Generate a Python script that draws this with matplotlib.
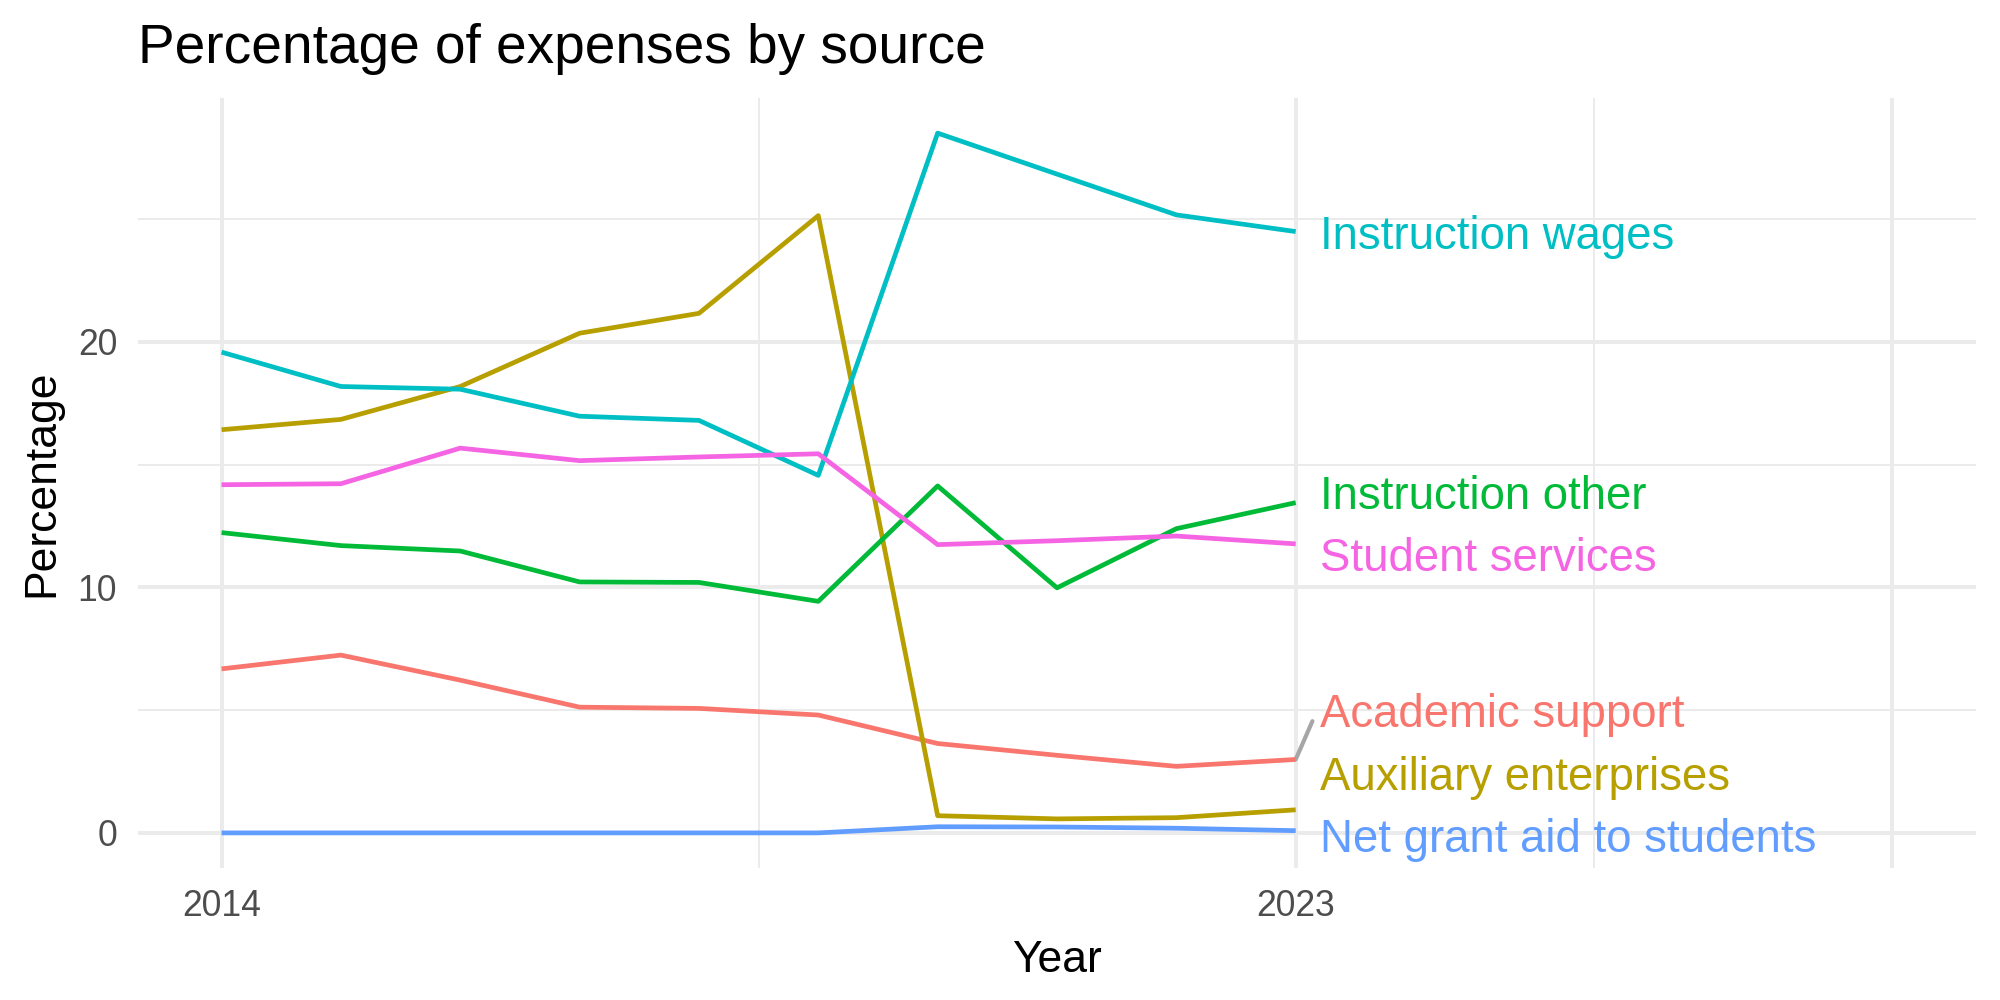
import numpy as np
import matplotlib
matplotlib.use("Agg")
import matplotlib.pyplot as plt

years = [2014, 2015, 2016, 2017, 2018, 2019, 2020, 2021, 2022, 2023]

academic_support = [6.68, 7.24, 6.22, 5.12, 5.07, 4.80, 3.64, 3.16, 2.71, 2.99]
auxiliary_enterprises = [16.42, 16.84, 18.18, 20.35, 21.16, 25.14, 0.70, 0.57, 0.62, 0.94]
instruction_other = [12.23, 11.70, 11.48, 10.22, 10.20, 9.43, 14.13, 9.98, 12.39, 13.45]
instruction_wages = [19.58, 18.18, 18.07, 16.97, 16.80, 14.56, 28.50, 26.83, 25.17, 24.49]
net_grant_aid = [0.0, 0.0, 0.0, 0.0, 0.0, 0.0, 0.25, 0.24, 0.19, 0.09]
student_services = [14.18, 14.22, 15.67, 15.16, 15.31, 15.44, 11.74, 11.90, 12.09, 11.77]

series_names = ["Academic support", "Auxiliary enterprises", "Instruction other",
                "Instruction wages", "Net grant aid to students", "Student services"]
series_vals = [academic_support, auxiliary_enterprises, instruction_other,
               instruction_wages, net_grant_aid, student_services]
colors = ["#F8766D", "#B79F00", "#00BA38", "#00BFC4", "#619CFF", "#F564E3"]

# baseline of each end label after repelling
label_base = {"Academic support": 4.32, "Auxiliary enterprises": 1.75,
              "Instruction other": 13.2, "Instruction wages": 23.78,
              "Net grant aid to students": -0.79, "Student services": 10.67}

plt.rcParams['font.family'] = ['Liberation Sans', 'DejaVu Sans']

fig = plt.figure(figsize=(10, 5), dpi=200)
ax = fig.add_axes([0.069, 0.132, 0.919, 0.770])

ax.set_xlim(2013.3, 2028.7)
ax.set_ylim(-1.43, 29.93)

grid = "#EBEBEB"
for x in [2014, 2023, 2028]:
    ax.axvline(x, color=grid, lw=1.42, zorder=0)
for x in [2018.5, 2025.5]:
    ax.axvline(x, color=grid, lw=0.71, zorder=0)
for y in [0, 10, 20]:
    ax.axhline(y, color=grid, lw=1.42, zorder=0)
for y in [5, 15, 25]:
    ax.axhline(y, color=grid, lw=0.71, zorder=0)

for name, vals, c in zip(series_names, series_vals, colors):
    ax.plot(years, vals, color=c, lw=1.7, zorder=2, solid_capstyle='butt')
    ax.text(years[-1] + 0.2, label_base[name], name, color=c, fontsize=16.4,
            ha='left', va='baseline', zorder=3)

# connector for the label that was pushed away from its line
ax.plot([years[-1], years[-1] + 0.14], [academic_support[-1], label_base["Academic support"] + 0.23],
        color="#A6A6A6", lw=1.5, zorder=1, solid_capstyle='round')

ax.set_xticks([2014, 2023, 2028])
ax.set_xticklabels(["2014", "2023", ""])
ax.set_yticks([0, 10, 20])
ax.tick_params(length=0, labelsize=12.8, labelcolor="#4D4D4D")
ax.tick_params(axis='x', pad=7.5)
ax.tick_params(axis='y', pad=7.5)
for s in ax.spines.values():
    s.set_visible(False)

ax.set_xlabel("Year", fontsize=16, labelpad=6)
ax.set_ylabel("Percentage", fontsize=16, labelpad=5.5)
ax.set_title("Percentage of expenses by source", fontsize=19.8, loc='left', pad=12.6)

plt.savefig("out.png", dpi=200)
